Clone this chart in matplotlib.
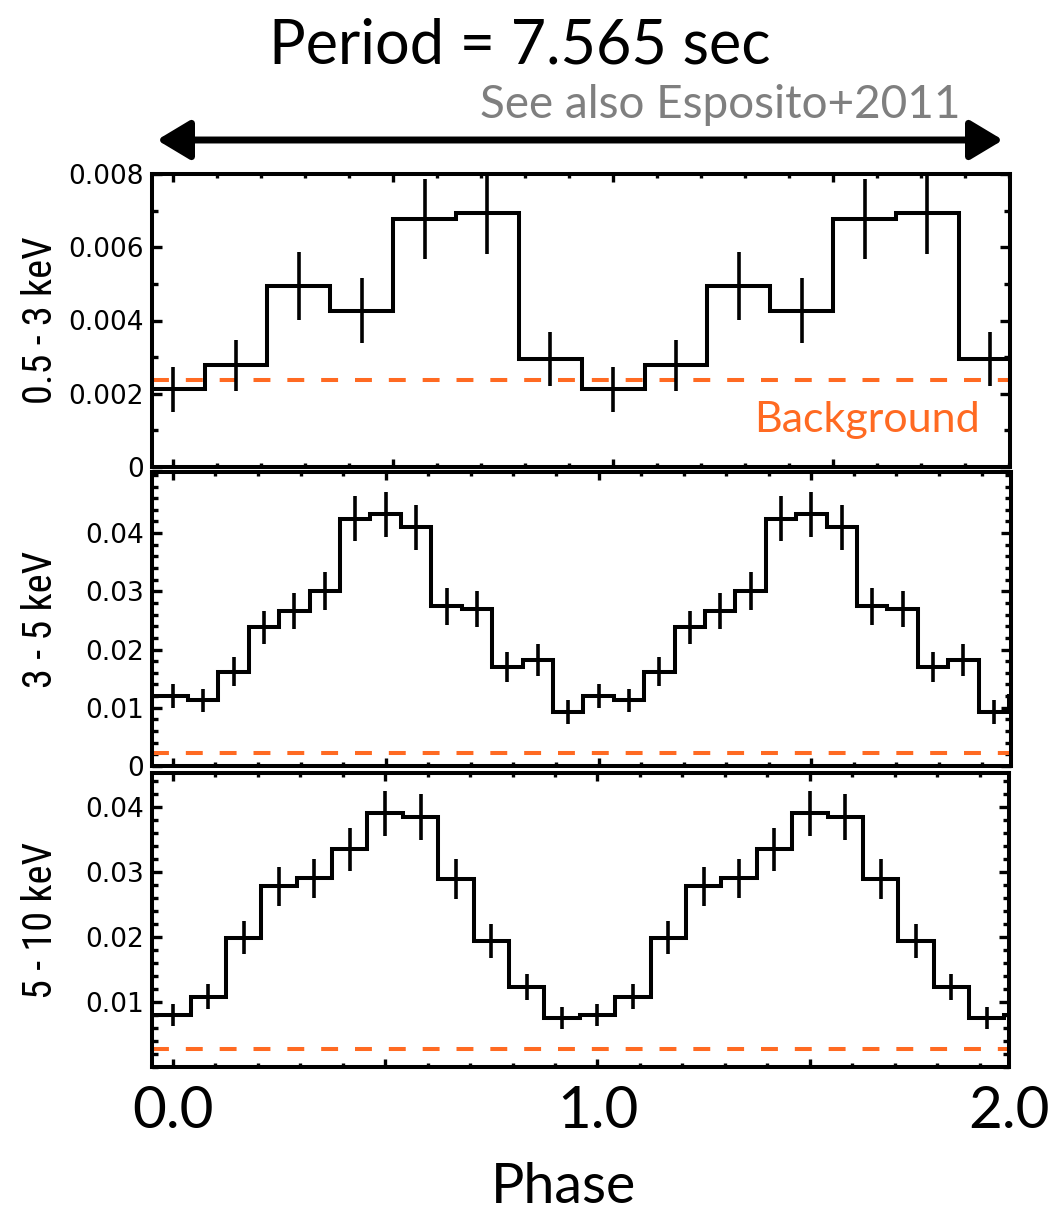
import matplotlib
matplotlib.use("Agg")
import numpy as np
import matplotlib.pyplot as plt
from matplotlib import font_manager as fm
from matplotlib.patches import FancyArrowPatch
from matplotlib.ticker import MultipleLocator, FixedLocator, FuncFormatter

# ---------------------------------------------------------------- data
# Folded light curves (counts/s) in three energy bands, one cycle each
soft_rate = [0.00212, 0.00278, 0.00495, 0.00427, 0.00677, 0.00694, 0.00295]
soft_err = [0.00061, 0.00070, 0.00093, 0.00088, 0.00108, 0.00113, 0.00073]
soft_bkg = 0.00237

mid_rate = [0.0120, 0.0113, 0.0162, 0.0238, 0.0267, 0.0301, 0.0425,
            0.0432, 0.0410, 0.0274, 0.0269, 0.0170, 0.0182, 0.0093]
mid_err = [0.0021, 0.0020, 0.0025, 0.0029, 0.0031, 0.0033, 0.0039,
           0.0039, 0.0039, 0.0031, 0.0031, 0.0026, 0.0027, 0.0020]
mid_bkg = 0.0023

hard_rate = [0.0080, 0.0108, 0.0199, 0.0278, 0.0290, 0.0335,
             0.0390, 0.0384, 0.0289, 0.0194, 0.0123, 0.0076]
hard_err = [0.0017, 0.0019, 0.0025, 0.0030, 0.0030, 0.0033,
            0.0035, 0.0035, 0.0031, 0.0026, 0.0020, 0.0017]
hard_bkg = 0.0028

band_labels = ["0.5 - 3 keV", "3 - 5 keV", "5 - 10 keV"]
title_text = "Period = 7.565 sec"
note_text = "See also Esposito+2011"
phase_labels = ["0.0", "1.0", "2.0"]

# ---------------------------------------------------------------- fonts
def first_font(cands):
    for name in cands:
        try:
            fm.findfont(fm.FontProperties(family=name), fallback_to_default=False)
            return name
        except Exception:
            continue
    return "DejaVu Sans"


main_font = first_font(["Lato", "Open Sans", "Roboto", "DejaVu Sans"])
narrow_font = first_font(["Liberation Sans Narrow", "Roboto Condensed",
                          "Open Sans Condensed", main_font])

ORANGE = "#FF6A22"
GREY = "#7F7F7F"
LW = 2.9

W, H = 1058, 1214
fig = plt.figure(figsize=(W / 100, H / 100), dpi=100)


def rect(left, right, top, bottom):
    return [left / W, 1 - bottom / H, (right - left) / W, (bottom - top) / H]


panels = [
    dict(rect=rect(152, 1010, 174, 467), rate=soft_rate, err=soft_err,
         bkg=soft_bkg, xlim=(-0.048, 1.902), ylim=(0, 0.008),
         major=MultipleLocator(0.002), minor=MultipleLocator(0.001),
         fmt=lambda v, p: "0" if abs(v) < 1e-12 else f"{v:.3f}"),
    dict(rect=rect(152, 1011, 472, 766), rate=mid_rate, err=mid_err,
         bkg=mid_bkg, xlim=(-0.049, 1.969), ylim=(0, 0.0505),
         major=FixedLocator([0, 0.01, 0.02, 0.03, 0.04]),
         minor=MultipleLocator(0.002),
         fmt=lambda v, p: "0" if abs(v) < 1e-12 else f"{v:.2f}"),
    dict(rect=rect(152, 1009, 773, 1067), rate=hard_rate, err=hard_err,
         bkg=hard_bkg, xlim=(-0.049, 1.969), ylim=(0, 0.0452),
         major=FixedLocator([0.01, 0.02, 0.03, 0.04]),
         minor=MultipleLocator(0.002),
         fmt=lambda v, p: f"{v:.2f}"),
]

axes = []
for i, pn in enumerate(panels):
    ax = fig.add_axes(pn["rect"])
    axes.append(ax)
    rate = np.asarray(pn["rate"])
    err = np.asarray(pn["err"])
    n = len(rate)
    width = 1.0 / n
    ncyc = 3
    vals = np.tile(rate, ncyc)
    errs = np.tile(err, ncyc)
    centers = np.arange(n * ncyc) * width
    edges = np.arange(n * ncyc + 1) * width - width / 2
    edges[0] = min(edges[0], pn["xlim"][0])

    ax.stairs(vals, edges, baseline=None, color="k", lw=LW,
              joinstyle="miter", capstyle="projecting", zorder=3)
    ax.errorbar(centers, vals, yerr=errs, fmt="none", ecolor="k",
                elinewidth=2.6, capsize=0, zorder=3)
    ax.axhline(pn["bkg"], color=ORANGE, lw=LW, dashes=(4.2, 4.2), zorder=2)

    ax.set_xlim(*pn["xlim"])
    ax.set_ylim(*pn["ylim"])
    ax.xaxis.set_major_locator(MultipleLocator(0.5))
    ax.xaxis.set_minor_locator(MultipleLocator(0.1))
    ax.yaxis.set_major_locator(pn["major"])
    ax.yaxis.set_minor_locator(pn["minor"])
    ax.yaxis.set_major_formatter(FuncFormatter(pn["fmt"]))

    for s in ax.spines.values():
        s.set_linewidth(LW)
    ax.tick_params(which="both", direction="in", top=True, right=True,
                   width=2.4, color="k")
    ax.tick_params(axis="y", which="major", length=7, pad=6,
                   labelsize=19, labelfontfamily="DejaVu Sans")
    ax.tick_params(axis="y", which="minor", length=4.5)
    ax.tick_params(axis="x", which="major", length=5.5)
    ax.tick_params(axis="x", which="minor", length=3)

    if i < 2:
        ax.tick_params(axis="x", labelbottom=False)
    else:
        ax.xaxis.set_major_formatter(FuncFormatter(
            lambda v, p: phase_labels[0] if abs(v) < 1e-9
            else (phase_labels[1] if abs(v - 1) < 1e-9 else "")))
        ax.tick_params(axis="x", which="major", pad=13, labelsize=42,
                       labelfontfamily=main_font)
        ax.annotate(phase_labels[2], xy=(1.0, 0.0), xycoords="axes fraction",
                    xytext=(0, -13), textcoords="offset points",
                    ha="center", va="top", fontsize=42, family=main_font)

    # band label on the left
    fig.text(40 / W, pn["rect"][1] + pn["rect"][3] / 2, band_labels[i],
             rotation=90, ha="center", va="center", fontsize=29,
             family=narrow_font)

# background label
axes[0].text(0.965, 0.00095, "Background", transform=axes[0].get_yaxis_transform(),
             ha="right", va="baseline", fontsize=31, color=ORANGE,
             family=main_font)

# titles
fig.text(520 / W, 1 - 63 / H, title_text, ha="center", va="baseline",
         fontsize=44, family=main_font, color="k")
fig.text(960 / W, 1 - 118 / H, note_text, ha="right", va="baseline",
         fontsize=33, family=main_font, color=GREY)
fig.text(563 / W, 1 - 1203 / H, "Phase", ha="center", va="baseline",
         fontsize=40, family=main_font, color="k")

# double-headed arrow spanning the phase range
arrow = FancyArrowPatch((157 / W, 1 - 140 / H), (1003 / W, 1 - 140 / H),
                        transform=fig.transFigure,
                        arrowstyle="<|-|>,head_length=1.0,head_width=0.6",
                        mutation_scale=20, lw=5, color="k",
                        shrinkA=0, shrinkB=0)
fig.add_artist(arrow)

fig.savefig("out.png", dpi=100)
